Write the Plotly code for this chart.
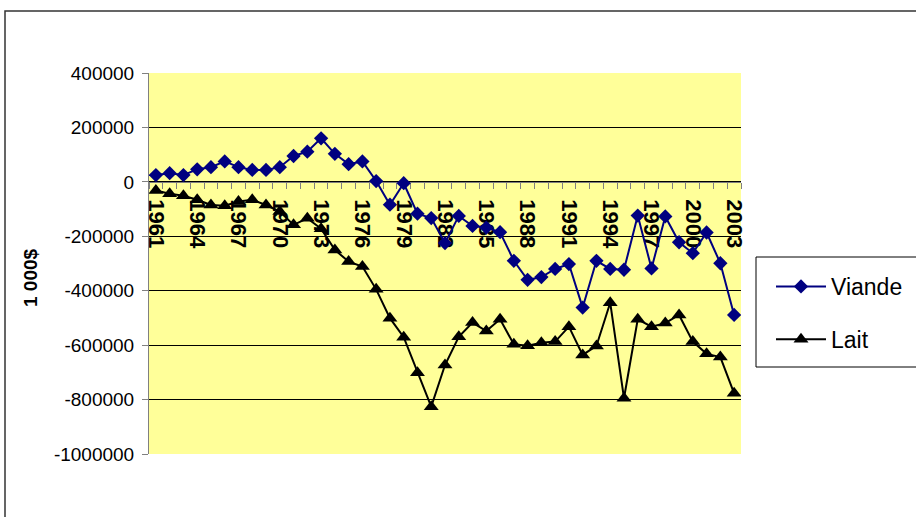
import plotly.graph_objects as go

years = list(range(1961, 2004))
viande = [25000, 32000, 25000, 46000, 54000, 75000, 54000, 44000, 44000, 54000,
          95000, 111000, 160000, 103000, 65000, 75000, 3000, -84000, -5000, -117000,
          -133000, -225000, -125000, -162000, -168000, -185000, -290000, -360000, -350000, -320000,
          -302000, -462000, -290000, -320000, -323000, -124000, -318000, -127000, -222000, -262000,
          -186000, -299000, -489000]
lait = [-32000, -44000, -51000, -66000, -85000, -88000, -72000, -66000, -85000, -109000,
        -158000, -134000, -172000, -250000, -293000, -311000, -395000, -501000, -571000, -701000,
        -826000, -673000, -569000, -517000, -548000, -505000, -597000, -602000, -591000, -587000,
        -532000, -636000, -603000, -444000, -795000, -505000, -532000, -519000, -489000, -587000,
        -632000, -644000, -777000]
x_ticks = list(range(1961, 2004, 3))
y_ticks = [400000, 200000, 0, -200000, -400000, -600000, -800000, -1000000]
y_labels = ["400000", "200000", "0", "-200000", "-400000", "-600000", "-800000", "-1000000"]

W, H = 916, 517
L, R, T, B = 149, 175, 73, 63
pw, ph = W - L - R, H - T - B

def px(x):
    return (x - L) / pw

def py(y):
    return (H - B - y) / ph

fig = go.Figure()
fig.add_trace(go.Scatter(x=years, y=viande, name="Viande", mode="lines+markers",
                         line=dict(color="#000080", width=2),
                         marker=dict(symbol="diamond", size=11, color="#000080"),
                         legendgroup="v"))
fig.add_trace(go.Scatter(x=years, y=lait, name="Lait", mode="lines+markers",
                         line=dict(color="#000000", width=2),
                         marker=dict(symbol="triangle-up", size=13, color="#000000"),
                         legendgroup="l"))

fig.update_layout(
    width=W, height=H,
    margin=dict(l=L, r=R, t=T, b=B, autoexpand=False),
    paper_bgcolor="white",
    plot_bgcolor="#FFFF99",
    font=dict(family="Arial, Liberation Sans", color="black"),
    showlegend=True,
    legend=dict(x=px(771), y=py(265), xanchor="left", yanchor="top",
                borderwidth=0, bgcolor="rgba(0,0,0,0)",
                font=dict(size=23), itemwidth=50, tracegroupgap=20),
    xaxis=dict(range=[1960.5, 2003.5], tickvals=x_ticks, tickangle=90,
               anchor="free", position=(0 - y_ticks[-1]) / (y_ticks[0] - y_ticks[-1]),
               showline=True, linecolor="#808080", linewidth=1,
               ticks="", showgrid=False, zeroline=False,
               tickfont=dict(size=22, weight="bold"),
               minor=dict(ticks="outside", tick0=1960.5, dtick=1, ticklen=6,
                          tickcolor="#808080", showgrid=False),
               layer="below traces", ticklabelstandoff=12),
    yaxis=dict(range=[y_ticks[-1], y_ticks[0]], tickvals=y_ticks, ticktext=y_labels,
               showline=True, linecolor="#808080", linewidth=1,
               ticks="outside", ticklen=6, tickcolor="#808080",
               showgrid=True, gridcolor="#000000", gridwidth=1, zeroline=False,
               tickfont=dict(size=19), ticklabelstandoff=4),
    annotations=[dict(text="<b>1 000$</b>", x=px(30), y=py(278), xref="paper", yref="paper",
                      showarrow=False, textangle=-90, font=dict(size=19),
                      xanchor="center", yanchor="middle")],
    shapes=[dict(type="rect", xref="paper", yref="paper",
                 x0=px(5), x1=px(925), y0=py(525), y1=py(11),
                 line=dict(color="#333333", width=1.5), layer="below"),
            dict(type="rect", xref="paper", yref="paper",
                 x0=px(756), x1=px(930), y0=py(367), y1=py(257),
                 line=dict(color="#000000", width=1), fillcolor="white", layer="below")],
)

fig.write_html("out.html", config={"displayModeBar": False})
with open("out.html", "r", encoding="utf-8") as f:
    html = f.read()
html = html.replace("<head>", "<head><style>html,body{margin:0;padding:0;}</style>", 1)
with open("out.html", "w", encoding="utf-8") as f:
    f.write(html)
